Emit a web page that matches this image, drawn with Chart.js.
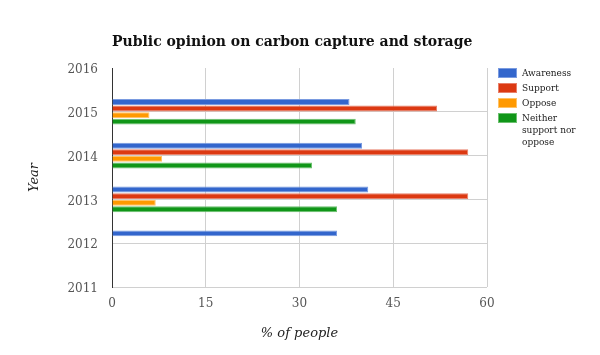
<!DOCTYPE html>
<html lang="en">
<head>
  <meta charset="UTF-8">
  <title>Public opinion on carbon capture and storage</title>
  <style>
    body { margin: 0; background: #fff; }
    #wrap { position: relative; width: 600px; height: 355px; }
    #legend {
      position: absolute; left: 498px; top: 68px; width: 100px;
      font-family: "DejaVu Serif", serif; font-size: 9px; color: #222;
    }
    .item { display: flex; align-items: flex-start; margin-bottom: 4px; }
    .box { width: 19px; height: 10px; margin-right: 5px; flex: none; box-sizing: border-box; }
    .label { width: 62px; line-height: 12px; margin-top: -1px; }
  </style>
  <script src="https://cdn.jsdelivr.net/npm/chart.js"></script>
</head>
<body>
  <div id="wrap">
    <canvas id="chartCanvas" width="600" height="355"></canvas>
    <div id="legend"></div>
  </div>

  <script>
    // years, top to bottom
    const years = ["2016", "2015", "2014", "2013", "2012", "2011"];
    const seriesNames = ["Awareness", "Support", "Oppose", "Neither support nor oppose"];
    const awareness = [null, 38, 40, 41, 36, null];
    const support   = [null, 52, 57, 57, null, null];
    const oppose    = [null, 6, 8, 7, null, null];
    const neither   = [null, 39, 32, 36, null, null];
    const xTicks = [0, 15, 30, 45, 60];

    const fills   = ["#3366cc", "#dc3912", "#ff9900", "#109618"];
    const borders = ["#7a9be0", "#e8806a", "#ffc266", "#6cc06f"];
    const values = [awareness, support, oppose, neither];

    const serif = "'DejaVu Serif', serif";

    const titlePlugin = {
      id: "topTitle",
      afterDraw(chart) {
        const ctx = chart.ctx;
        ctx.save();
        ctx.font = "bold 14px " + serif;
        ctx.fillStyle = "#111";
        ctx.textBaseline = "middle";
        ctx.fillText("Public opinion on carbon capture and storage", chart.chartArea.left, 42);
        ctx.restore();
      }
    };

    new Chart(document.getElementById("chartCanvas"), {
      type: "bar",
      data: {
        labels: years,
        datasets: seriesNames.map((name, i) => ({
          label: name,
          data: values[i],
          backgroundColor: fills[i],
          borderColor: borders[i],
          borderWidth: 1,
          categoryPercentage: 0.6,
          barPercentage: 0.9
        }))
      },
      options: {
        indexAxis: "y",
        responsive: false,
        animation: false,
        layout: { padding: { top: 68, right: 113, left: 0, bottom: 0 } },
        plugins: {
          legend: { display: false },
          tooltip: { enabled: false }
        },
        scales: {
          x: {
            min: 0,
            max: 60,
            afterBuildTicks: s => { s.ticks = xTicks.map(v => ({ value: v })); },
            afterFit: s => { s.height = 68; },
            grid: { color: "#d0d0d0", drawTicks: false },
            border: { display: false },
            ticks: { color: "#555", padding: 10, font: { family: serif, size: 12 } },
            title: {
              display: true,
              text: "% of people",
              color: "#222",
              padding: { bottom: 14 },
              font: { family: serif, size: 13, style: "italic" }
            }
          },
          y: {
            type: "category",
            offset: false,
            afterFit: s => { s.width = 112; },
            grid: {
              offset: false,
              drawTicks: false,
              color: ctx => ctx.index === 0 ? "rgba(0,0,0,0)" : "#d0d0d0"
            },
            border: { display: true, color: "#333", width: 1 },
            ticks: { color: "#555", padding: 14, labelOffset: 2, font: { family: serif, size: 12 } },
            title: {
              display: true,
              text: "Year",
              color: "#222",
              padding: { top: 27 },
              font: { family: serif, size: 13, style: "italic" }
            }
          }
        }
      },
      plugins: [titlePlugin]
    });

    const legend = document.getElementById("legend");
    seriesNames.forEach((name, i) => {
      const item = document.createElement("div");
      item.className = "item";
      const box = document.createElement("div");
      box.className = "box";
      box.style.background = fills[i];
      box.style.border = "1px solid " + borders[i];
      const label = document.createElement("div");
      label.className = "label";
      label.textContent = name;
      item.appendChild(box);
      item.appendChild(label);
      legend.appendChild(item);
    });
  </script>
</body>
</html>
